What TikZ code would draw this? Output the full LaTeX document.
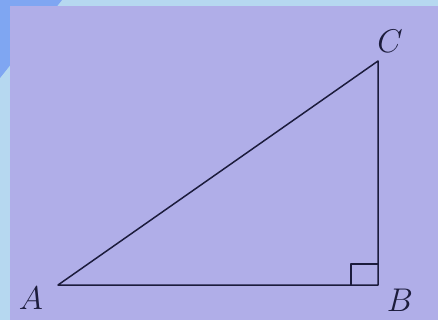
\documentclass[tikz,border=0pt]{standalone}
\usepackage{graphicx}
\usepackage{tikz}
\usetikzlibrary{calc}
\usepackage{xcolor}
\definecolor{slideSky}{HTML}{B6D8F0}
\definecolor{slideSwoosh}{HTML}{7FA6F2}
\definecolor{slideLav}{HTML}{B0AEE8}
\definecolor{inkNavy}{HTML}{1C1C3C}
% big italic vertex letter
\newcommand{\vname}[1]{\scalebox{1.9}{\LARGE$#1$}}

\begin{document}
\begin{tikzpicture}[
    x=1pt, y=-1pt,
    % one pen for the whole figure: sides and the right-angle box
    side/.style={draw=inkNavy, line width=1.5pt, line join=round},
    vlab/.style={text=inkNavy, inner sep=0pt},
]
\useasboundingbox (0,0) rectangle (438,320);

%================= the slide behind the figure =================%
\fill[slideSky] (0,0) rectangle (438,320);
\fill[slideSwoosh] (0,0) -- (62,0) -- (0,78) -- cycle;
\fill[slideLav] (10,6) rectangle (438,320);

%================= the triangle =================%
\coordinate (A) at (58,285);
\coordinate (B) at (378,285);
\coordinate (C) at (378,61);
\draw[side] (A) -- (B) -- (C) -- cycle;
% right angle at B
\draw[side, line width=1.2pt] ($(B)+(-27,0)$) |- ($(B)+(0,-21)$);

%================= vertex labels =================%
\node[vlab] (labA) at (31,298) {\vname{A}};
\node[vlab] (labB) at (400,300) {\vname{B}};
\node[vlab] (labC) at (390,41)  {\vname{C}};

\end{tikzpicture}
\end{document}
